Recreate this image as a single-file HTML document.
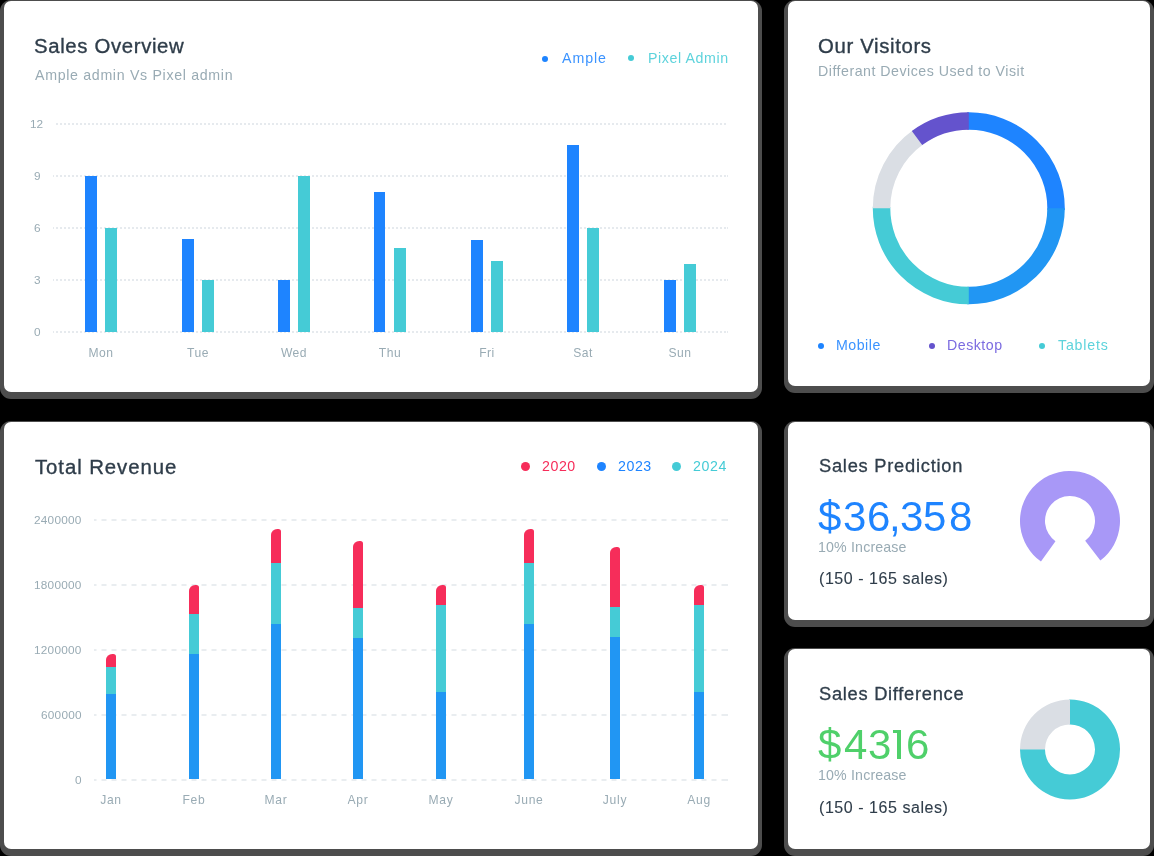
<!DOCTYPE html>
<html><head><meta charset="utf-8">
<style>
*{margin:0;padding:0;box-sizing:border-box}
html,body{width:1154px;height:856px;background:#000;overflow:hidden}
body{position:relative;font-family:"Liberation Sans",sans-serif}
.card{position:absolute;background:#fff;border-radius:7px;box-shadow:0 3px 0 4px rgba(255,255,255,.3)}
.t{position:absolute;line-height:1;white-space:pre;will-change:transform}
.ttl{color:#2f3d4a;-webkit-text-stroke:0.35px #2f3d4a}
.ttl2{-webkit-text-stroke:0.3px #2f3d4a}
.dot{position:absolute;border-radius:50%}
.bar{position:absolute}
.gl{position:absolute;height:2px;background:repeating-linear-gradient(to right,#e6eaee 0 2px,transparent 2px 4px)}
.gd{position:absolute;height:2px;background:repeating-linear-gradient(to right,#e9edf0 0 5px,transparent 5px 10px)}
</style></head><body>
<div class="card" style="left:4px;top:1px;width:754px;height:391px"></div>
<div class="card" style="left:788px;top:1px;width:362px;height:385.4px"></div>
<div class="card" style="left:4px;top:422px;width:754px;height:427px"></div>
<div class="card" style="left:788px;top:421.8px;width:362px;height:198.2px"></div>
<div class="card" style="left:788px;top:649px;width:362px;height:200px"></div>
<div class="t ttl" style="left:34.00px;top:35.67px;font-size:20.35px;color:#2f3d4a;letter-spacing:0.65px;">Sales Overview</div>
<div class="t" style="left:35.00px;top:67.88px;font-size:14.2px;color:#99abb4;letter-spacing:0.68px;">Ample admin Vs Pixel admin</div>
<div class="dot" style="left:542.00px;top:55.50px;width:6px;height:6px;background:#1e84ff"></div>
<div class="t" style="left:562.00px;top:50.88px;font-size:14.2px;color:#3b93ff;letter-spacing:0.95px;">Ample</div>
<div class="dot" style="left:628.00px;top:55.40px;width:6px;height:6px;background:#45cbd6"></div>
<div class="t" style="left:648.00px;top:50.88px;font-size:14.2px;color:#5dd3dc;letter-spacing:0.6px;">Pixel Admin</div>
<div class="gl" style="left:56px;top:123px;width:672px;background-position:0px 0"></div>
<div class="t" style="right:1110.40px;top:119.01px;font-size:11.8px;color:#99abb4;letter-spacing:0px;">12</div>
<div class="gl" style="left:53px;top:175px;width:675px;background-position:-1px 0"></div>
<div class="t" style="right:1113.40px;top:171.01px;font-size:11.8px;color:#99abb4;letter-spacing:0px;">9</div>
<div class="gl" style="left:53px;top:227px;width:675px;background-position:-1px 0"></div>
<div class="t" style="right:1113.40px;top:223.01px;font-size:11.8px;color:#99abb4;letter-spacing:0px;">6</div>
<div class="gl" style="left:53px;top:279px;width:675px;background-position:-1px 0"></div>
<div class="t" style="right:1113.40px;top:275.01px;font-size:11.8px;color:#99abb4;letter-spacing:0px;">3</div>
<div class="gl" style="left:53px;top:331px;width:675px;background-position:-1px 0"></div>
<div class="t" style="right:1113.40px;top:327.01px;font-size:11.8px;color:#99abb4;letter-spacing:0px;">0</div>
<div class="bar" style="left:85.2px;top:176px;width:12px;height:156px;background:#1e84ff;"></div>
<div class="bar" style="left:105.2px;top:228px;width:12px;height:104px;background:#45cbd6;"></div>
<div class="t" style="left:101.20px;transform:translateX(-50%);top:346.75px;font-size:12.1px;color:#99abb4;letter-spacing:0.5px;">Mon</div>
<div class="bar" style="left:181.6px;top:239px;width:12px;height:93px;background:#1e84ff;"></div>
<div class="bar" style="left:201.6px;top:280px;width:12px;height:52px;background:#45cbd6;"></div>
<div class="t" style="left:197.60px;transform:translateX(-50%);top:346.75px;font-size:12.1px;color:#99abb4;letter-spacing:0.5px;">Tue</div>
<div class="bar" style="left:278.0px;top:280px;width:12px;height:52px;background:#1e84ff;"></div>
<div class="bar" style="left:298.0px;top:176px;width:12px;height:156px;background:#45cbd6;"></div>
<div class="t" style="left:294.00px;transform:translateX(-50%);top:346.75px;font-size:12.1px;color:#99abb4;letter-spacing:0.5px;">Wed</div>
<div class="bar" style="left:374.4px;top:192.2px;width:11px;height:139.8px;background:#1e84ff;"></div>
<div class="bar" style="left:394.4px;top:248.2px;width:12px;height:83.80000000000001px;background:#45cbd6;"></div>
<div class="t" style="left:390.40px;transform:translateX(-50%);top:346.75px;font-size:12.1px;color:#99abb4;letter-spacing:0.5px;">Thu</div>
<div class="bar" style="left:470.8px;top:240px;width:12px;height:92px;background:#1e84ff;"></div>
<div class="bar" style="left:490.8px;top:261px;width:12px;height:71px;background:#45cbd6;"></div>
<div class="t" style="left:486.80px;transform:translateX(-50%);top:346.75px;font-size:12.1px;color:#99abb4;letter-spacing:0.5px;">Fri</div>
<div class="bar" style="left:567.2px;top:144.8px;width:12px;height:187.2px;background:#1e84ff;"></div>
<div class="bar" style="left:587.2px;top:228px;width:12px;height:104px;background:#45cbd6;"></div>
<div class="t" style="left:583.20px;transform:translateX(-50%);top:346.75px;font-size:12.1px;color:#99abb4;letter-spacing:0.5px;">Sat</div>
<div class="bar" style="left:663.6px;top:280px;width:12px;height:52px;background:#1e84ff;"></div>
<div class="bar" style="left:683.6px;top:264px;width:12px;height:68px;background:#45cbd6;"></div>
<div class="t" style="left:679.60px;transform:translateX(-50%);top:346.75px;font-size:12.1px;color:#99abb4;letter-spacing:0.5px;">Sun</div>
<div class="t ttl" style="left:818.00px;top:35.67px;font-size:20.35px;color:#2f3d4a;letter-spacing:0.65px;">Our Visitors</div>
<div class="t" style="left:818.00px;top:63.78px;font-size:14.2px;color:#99abb4;letter-spacing:0.5px;">Differant Devices Used to Visit</div>
<svg style="position:absolute;left:0;top:0" width="1154" height="856"><path d="M967.28 121.06 A87.25 87.25 0 0 1 1056.04 209.82" stroke="#1e84ff" stroke-width="17.5" fill="none"/><path d="M1056.05 208.30 A87.25 87.25 0 0 1 967.28 295.54" stroke="#2196f3" stroke-width="17.5" fill="none"/><path d="M968.80 295.55 A87.25 87.25 0 0 1 881.56 206.78" stroke="#45cbd6" stroke-width="17.5" fill="none"/><path d="M881.55 208.30 A87.25 87.25 0 0 1 918.26 137.18" stroke="#dadee4" stroke-width="17.5" fill="none"/><path d="M917.02 138.07 A87.25 87.25 0 0 1 968.80 121.05" stroke="#6453cd" stroke-width="17.5" fill="none"/><path d="M1040.96 561.61 A50 50 0 1 1 1100.37 560.62 L1085.18 540.76 A25 25 0 1 0 1055.48 541.25Z" fill="#a898f7"/><path d="M1069.13 699.41 A50 50 0 1 1 1020.01 748.53 L1045.00 748.96 A25 25 0 1 0 1069.56 724.40Z" fill="#45cbd6"/><path d="M1020.00 749.40 A50 50 0 0 1 1070.00 699.40 L1070.00 724.40 A25 25 0 0 0 1045.00 749.40Z" fill="#dadee4"/></svg>
<div class="dot" style="left:818.00px;top:342.50px;width:6px;height:6px;background:#1e84ff"></div>
<div class="t" style="left:836.00px;top:337.98px;font-size:14.2px;color:#3b93ff;letter-spacing:0.5px;">Mobile</div>
<div class="dot" style="left:929.00px;top:342.50px;width:6px;height:6px;background:#6453cd"></div>
<div class="t" style="left:946.50px;top:337.98px;font-size:14.2px;color:#7b6be0;letter-spacing:0.5px;">Desktop</div>
<div class="dot" style="left:1039.00px;top:342.50px;width:6px;height:6px;background:#45cbd6"></div>
<div class="t" style="left:1057.50px;top:337.98px;font-size:14.2px;color:#5dd3dc;letter-spacing:0.8px;">Tablets</div>
<div class="t ttl" style="left:35.30px;top:456.57px;font-size:20.35px;color:#2f3d4a;letter-spacing:0.93px;">Total Revenue</div>
<div class="dot" style="left:521.00px;top:462.10px;width:9px;height:9px;background:#f62d5a"></div>
<div class="t" style="left:542.00px;top:459.48px;font-size:14.2px;color:#f62d5a;letter-spacing:0.55px;">2020</div>
<div class="dot" style="left:596.90px;top:462.10px;width:9px;height:9px;background:#1e84ff"></div>
<div class="t" style="left:618.00px;top:459.48px;font-size:14.2px;color:#1e84ff;letter-spacing:0.55px;">2023</div>
<div class="dot" style="left:671.90px;top:462.10px;width:9px;height:9px;background:#45cbd6"></div>
<div class="t" style="left:693.00px;top:459.48px;font-size:14.2px;color:#45cbd6;letter-spacing:0.6px;">2024</div>
<div class="gd" style="left:94px;top:518.6px;width:634px;background-position:-2.5px 0"></div>
<div class="t" style="right:1072.60px;top:514.61px;font-size:11.8px;color:#99abb4;letter-spacing:0.25px;">2400000</div>
<div class="gd" style="left:94px;top:583.6px;width:634px;background-position:-2.5px 0"></div>
<div class="t" style="right:1072.60px;top:579.61px;font-size:11.8px;color:#99abb4;letter-spacing:0.25px;">1800000</div>
<div class="gd" style="left:94px;top:648.6px;width:634px;background-position:-2.5px 0"></div>
<div class="t" style="right:1072.60px;top:644.61px;font-size:11.8px;color:#99abb4;letter-spacing:0.25px;">1200000</div>
<div class="gd" style="left:94px;top:713.6px;width:634px;background-position:-2.5px 0"></div>
<div class="t" style="right:1072.60px;top:709.61px;font-size:11.8px;color:#99abb4;letter-spacing:0.25px;">600000</div>
<div class="gd" style="left:94px;top:778.6px;width:634px;background-position:-2.5px 0"></div>
<div class="t" style="right:1072.60px;top:774.61px;font-size:11.8px;color:#99abb4;letter-spacing:0.25px;">0</div>
<div class="bar" style="left:106.4px;top:693.6px;width:10px;height:85.39999999999998px;background:#2196f3;"></div>
<div class="bar" style="left:106.4px;top:667.1px;width:10px;height:26.5px;background:#45cbd6;"></div>
<div class="bar" style="left:106.4px;top:654px;width:10px;height:13.100000000000023px;background:#f62d5a;border-radius:6.2px 2.7px 0 0/6.2px 2.6px 0 0"></div>
<div class="t" style="left:111.40px;transform:translateX(-50%);top:794.05px;font-size:12.1px;color:#99abb4;letter-spacing:0.7px;">Jan</div>
<div class="bar" style="left:188.9px;top:653.6px;width:10px;height:125.39999999999998px;background:#2196f3;"></div>
<div class="bar" style="left:188.9px;top:614px;width:10px;height:39.60000000000002px;background:#45cbd6;"></div>
<div class="bar" style="left:188.9px;top:585.2px;width:10px;height:28.799999999999955px;background:#f62d5a;border-radius:6.2px 2.7px 0 0/6.2px 2.6px 0 0"></div>
<div class="t" style="left:193.90px;transform:translateX(-50%);top:794.05px;font-size:12.1px;color:#99abb4;letter-spacing:0.7px;">Feb</div>
<div class="bar" style="left:270.9px;top:624.1px;width:10px;height:154.89999999999998px;background:#2196f3;"></div>
<div class="bar" style="left:270.9px;top:562.8px;width:10px;height:61.30000000000007px;background:#45cbd6;"></div>
<div class="bar" style="left:270.9px;top:529.2px;width:10px;height:33.59999999999991px;background:#f62d5a;border-radius:6.2px 2.7px 0 0/6.2px 2.6px 0 0"></div>
<div class="t" style="left:275.90px;transform:translateX(-50%);top:794.05px;font-size:12.1px;color:#99abb4;letter-spacing:0.7px;">Mar</div>
<div class="bar" style="left:352.7px;top:637.6px;width:10px;height:141.39999999999998px;background:#2196f3;"></div>
<div class="bar" style="left:352.7px;top:607.7px;width:10px;height:29.899999999999977px;background:#45cbd6;"></div>
<div class="bar" style="left:352.7px;top:541.1px;width:10px;height:66.60000000000002px;background:#f62d5a;border-radius:6.2px 2.7px 0 0/6.2px 2.6px 0 0"></div>
<div class="t" style="left:357.70px;transform:translateX(-50%);top:794.05px;font-size:12.1px;color:#99abb4;letter-spacing:0.7px;">Apr</div>
<div class="bar" style="left:436px;top:692.2px;width:10px;height:86.79999999999995px;background:#2196f3;"></div>
<div class="bar" style="left:436px;top:605.1px;width:10px;height:87.10000000000002px;background:#45cbd6;"></div>
<div class="bar" style="left:436px;top:585.3px;width:10px;height:19.800000000000068px;background:#f62d5a;border-radius:6.2px 2.7px 0 0/6.2px 2.6px 0 0"></div>
<div class="t" style="left:441.00px;transform:translateX(-50%);top:794.05px;font-size:12.1px;color:#99abb4;letter-spacing:0.7px;">May</div>
<div class="bar" style="left:523.7px;top:624.2px;width:10px;height:154.79999999999995px;background:#2196f3;"></div>
<div class="bar" style="left:523.7px;top:562.8px;width:10px;height:61.40000000000009px;background:#45cbd6;"></div>
<div class="bar" style="left:523.7px;top:529.2px;width:10px;height:33.59999999999991px;background:#f62d5a;border-radius:6.2px 2.7px 0 0/6.2px 2.6px 0 0"></div>
<div class="t" style="left:528.70px;transform:translateX(-50%);top:794.05px;font-size:12.1px;color:#99abb4;letter-spacing:0.7px;">June</div>
<div class="bar" style="left:610.2px;top:636.9px;width:10px;height:142.10000000000002px;background:#2196f3;"></div>
<div class="bar" style="left:610.2px;top:607px;width:10px;height:29.899999999999977px;background:#45cbd6;"></div>
<div class="bar" style="left:610.2px;top:547.1px;width:10px;height:59.89999999999998px;background:#f62d5a;border-radius:6.2px 2.7px 0 0/6.2px 2.6px 0 0"></div>
<div class="t" style="left:615.20px;transform:translateX(-50%);top:794.05px;font-size:12.1px;color:#99abb4;letter-spacing:0.7px;">July</div>
<div class="bar" style="left:694px;top:692.2px;width:10px;height:86.79999999999995px;background:#2196f3;"></div>
<div class="bar" style="left:694px;top:605.1px;width:10px;height:87.10000000000002px;background:#45cbd6;"></div>
<div class="bar" style="left:694px;top:585.3px;width:10px;height:19.800000000000068px;background:#f62d5a;border-radius:6.2px 2.7px 0 0/6.2px 2.6px 0 0"></div>
<div class="t" style="left:699.00px;transform:translateX(-50%);top:794.05px;font-size:12.1px;color:#99abb4;letter-spacing:0.7px;">Aug</div>
<div class="t ttl2" style="left:818.50px;top:456.71px;font-size:18.3px;color:#2f3d4a;letter-spacing:0.75px;">Sales Prediction</div>
<div class="t" style="left:817.88px;top:495.84px;font-size:42px;color:#1e84ff;">$</div>
<div class="t" style="left:843.04px;top:495.84px;font-size:42px;color:#1e84ff;">3</div>
<div class="t" style="left:866.78px;top:495.84px;font-size:42px;color:#1e84ff;">6</div>
<div class="t" style="left:889.37px;top:495.84px;font-size:42px;color:#1e84ff;">,</div>
<div class="t" style="left:899.79px;top:495.84px;font-size:42px;color:#1e84ff;">3</div>
<div class="t" style="left:923.41px;top:495.84px;font-size:42px;color:#1e84ff;">5</div>
<div class="t" style="left:949.17px;top:495.84px;font-size:42px;color:#1e84ff;">8</div>
<div class="t" style="left:818.00px;top:539.78px;font-size:14.2px;color:#99abb4;letter-spacing:0.16px;">10% Increase</div>
<div class="t" style="left:819.30px;top:570.95px;font-size:16px;color:#2f3d4a;letter-spacing:0.55px;-webkit-text-stroke:0.12px #2f3d4a">(150 - 165 sales)</div>
<div class="t ttl2" style="left:818.50px;top:684.61px;font-size:18.3px;color:#2f3d4a;letter-spacing:0.72px;">Sales Difference</div>
<div class="t" style="left:817.93px;top:724.44px;font-size:42px;color:#4fd06a;">$</div>
<div class="t" style="left:844.00px;top:724.44px;font-size:42px;color:#4fd06a;">4</div>
<div class="t" style="left:868.09px;top:724.44px;font-size:42px;color:#4fd06a;">3</div>
<div class="t" style="left:905.78px;top:724.44px;font-size:42px;color:#4fd06a;">6</div>
<div class="bar" style="left:892.9px;top:730px;width:8px;height:3.3px;background:#4fd06a;"></div>
<div class="bar" style="left:896.9px;top:730px;width:4px;height:28.8px;background:#4fd06a;"></div>
<div class="t" style="left:818.00px;top:768.48px;font-size:14.2px;color:#99abb4;letter-spacing:0.16px;">10% Increase</div>
<div class="t" style="left:819.30px;top:799.55px;font-size:16px;color:#2f3d4a;letter-spacing:0.55px;-webkit-text-stroke:0.12px #2f3d4a">(150 - 165 sales)</div>
</body></html>
